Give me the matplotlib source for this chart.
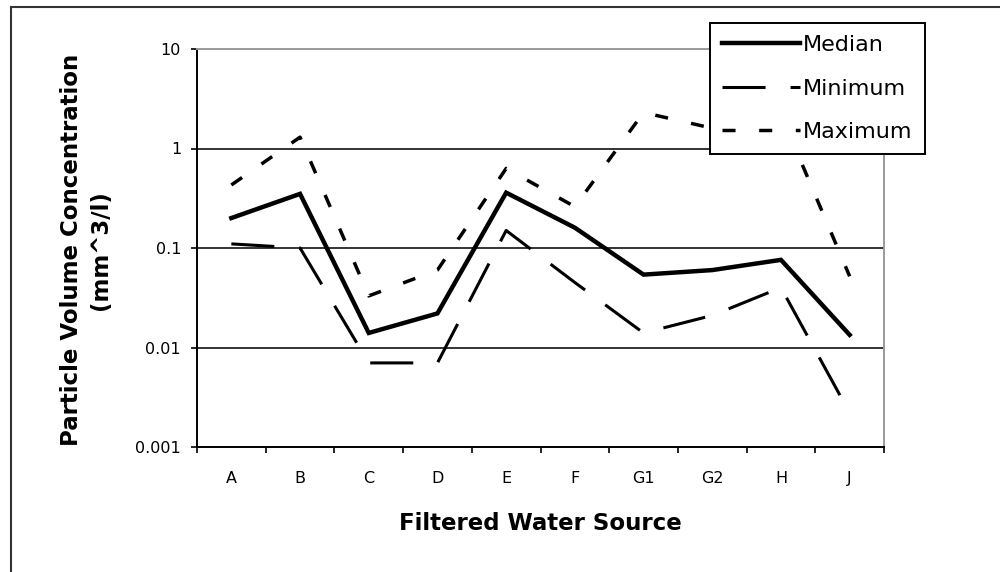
"""
plot.py
Particle volume concentration by filtered water source (log scale)
"""
# !/usr/bin/env python3

import sys
import numpy as np
import matplotlib
matplotlib.use('Agg')
import matplotlib.pyplot as plt
from matplotlib.patches import Rectangle
from matplotlib.ticker import FixedLocator, NullFormatter, FixedFormatter

SUCCESS = 0

sources = ['A', 'B', 'C', 'D', 'E', 'F', 'G1', 'G2', 'H', 'J']
median = [0.20, 0.35, 0.014, 0.022, 0.36, 0.16, 0.054, 0.060, 0.076, 0.0134]
minimum = [0.11, 0.10, 0.007, 0.007, 0.15, 0.045, 0.014, 0.021, 0.040, 0.0022]
maximum = [0.43, 1.3, 0.033, 0.06, 0.63, 0.26, 2.3, 1.6, 2.2, 0.052]
y_ticks = [0.001, 0.01, 0.1, 1, 10]
y_tick_labels = ['0.001', '0.01', '0.1', '1', '10']

W, H = 1000, 572


def plot_data(out_fname):
    fig = plt.figure(figsize=(W / 100, H / 100), dpi=100)
    fig.patch.set_facecolor('white')

    # outer chart border (only left and top edges fall inside the image)
    fig.patches.append(Rectangle((11 / W, -0.5), 2.0, (H - 7) / H + 0.5,
                                 transform=fig.transFigure, fill=False,
                                 edgecolor='#333333', linewidth=1.5))

    ax = fig.add_axes([197 / W, 1 - 447 / H, 687 / W, 398 / H])
    x = np.arange(len(sources))

    lw_med, lw_min, lw_max = 3.2, 2.2, 2.5
    ax.plot(x, median, color='black', lw=lw_med, label='Median',
            solid_joinstyle='miter', zorder=3)
    ax.plot(x, minimum, color='black', lw=lw_min, label='Minimum',
            linestyle=(0, (31 / lw_min, 18 / lw_min)), dash_capstyle='butt', zorder=3)
    ax.plot(x, maximum, color='black', lw=lw_max, label='Maximum',
            linestyle=(0, (9.4 / lw_max, 17 / lw_max)), dash_capstyle='butt', zorder=3)

    ax.set_yscale('log')
    ax.set_ylim(0.001, 10)
    ax.set_xlim(-0.5, len(sources) - 0.5)

    # y axis: decades only
    ax.yaxis.set_major_locator(FixedLocator(y_ticks))
    ax.yaxis.set_major_formatter(FixedFormatter(y_tick_labels))
    ax.yaxis.set_minor_locator(FixedLocator([]))
    ax.tick_params(axis='y', which='major', direction='out', length=4.5, width=1.2,
                   labelsize=11.5, pad=7, colors='black')

    # x axis: tick marks between categories, labels centred
    ax.xaxis.set_major_locator(FixedLocator(np.arange(len(sources) + 1) - 0.5))
    ax.xaxis.set_major_formatter(NullFormatter())
    ax.xaxis.set_minor_locator(FixedLocator(x))
    ax.xaxis.set_minor_formatter(FixedFormatter(sources))
    ax.tick_params(axis='x', which='major', direction='out', length=4.5, width=1.2)
    ax.tick_params(axis='x', which='minor', length=0, labelsize=11.5, pad=17)

    for yv in [0.01, 0.1, 1]:
        ax.axhline(yv, color='#333333', lw=1.4, zorder=1)

    ax.spines['left'].set_color('black')
    ax.spines['bottom'].set_color('black')
    ax.spines['left'].set_linewidth(1.4)
    ax.spines['bottom'].set_linewidth(1.4)
    ax.spines['top'].set_color('#9a9a9a')
    ax.spines['right'].set_color('#9a9a9a')
    ax.spines['top'].set_linewidth(1.4)
    ax.spines['right'].set_linewidth(1.4)

    fig.text(86 / W, 1 - 250 / H, 'Particle Volume Concentration\n(mm^3/l)',
             rotation=90, ha='center', va='center', fontsize=16.5,
             fontweight='bold', linespacing=1.3)
    fig.text(540 / W, 1 - 524 / H, 'Filtered Water Source', ha='center',
             va='center', fontsize=16.5, fontweight='bold')

    leg = ax.legend(loc='upper left', bbox_to_anchor=(710 / W, 1 - 23 / H),
                    bbox_transform=fig.transFigure, borderaxespad=0,
                    fontsize=16, handlelength=3.5, handletextpad=0.15,
                    borderpad=0.55, labelspacing=1.05, fancybox=False,
                    framealpha=1, edgecolor='black')
    leg.get_frame().set_linewidth(1.4)
    leg.set_zorder(5)

    fig.savefig(out_fname, dpi=100)


def main(argv=None):
    plot_data('out.png')
    return SUCCESS


if __name__ == "__main__":
    status = main()
    sys.exit(status)
